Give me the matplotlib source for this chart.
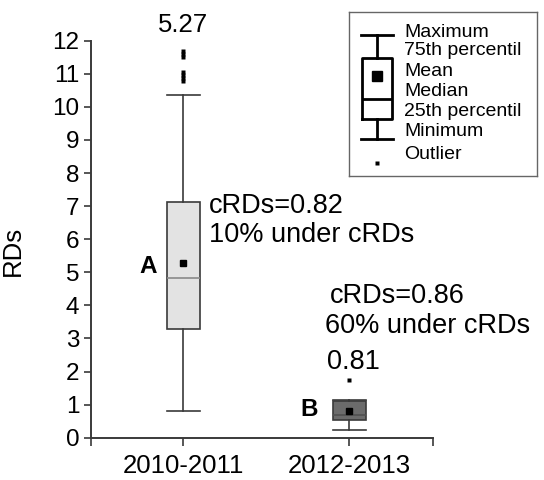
import matplotlib
matplotlib.use('Agg')
import matplotlib.pyplot as plt

plt.rcParams['font.family'] = ['Liberation Sans', 'DejaVu Sans']

# datos
periods = ['2010-2011', '2012-2013']
whislo = [0.80, 0.24]
q1 = [3.28, 0.53]
medians = [4.83, 0.70]
q3 = [7.13, 1.10]
whishi = [10.35, 1.14]
means = [5.27, 0.81]
outliers = [[11.70, 11.60, 11.50, 11.05, 10.96, 10.87, 10.78], [1.73]]
group_letters = ['A', 'B']
crds_text = [['cRDs=0.82', '10% under cRDs'], ['cRDs=0.86', '60% under cRDs']]
box_colors = ['#e3e3e3', '#6b6b6b']
median_colors = ['#8a8a8a', '#505050']

legend_labels = ['Maximum', '75th percentil', 'Mean', 'Median',
                 '25th percentil', 'Minimum', 'Outlier']

fig = plt.figure(figsize=(5.44, 4.8), dpi=100)
ax = fig.add_axes([0.1673, 0.0881, 0.6292, 0.8271])

stats = []
for i in range(len(periods)):
    stats.append({'whislo': whislo[i], 'q1': q1[i], 'med': medians[i],
                  'q3': q3[i], 'whishi': whishi[i], 'mean': means[i],
                  'fliers': outliers[i], 'label': periods[i]})

edge = '#3a3a3a'
bp = ax.bxp(stats, positions=[1, 2], widths=0.2, capwidths=0.2,
            showmeans=True, patch_artist=True,
            boxprops=dict(edgecolor=edge, linewidth=1.2),
            whiskerprops=dict(color=edge, linewidth=1.2),
            capprops=dict(color=edge, linewidth=1.2),
            meanprops=dict(marker='s', markerfacecolor='black',
                           markeredgecolor='black', markersize=5),
            flierprops=dict(marker='s', markerfacecolor='black',
                            markeredgecolor='none', markersize=3))
for patch, c in zip(bp['boxes'], box_colors):
    patch.set_facecolor(c)
for line, c in zip(bp['medians'], median_colors):
    line.set_color(c)
    line.set_linewidth(1.2)

ax.set_xlim(0.444, 2.506)
ax.set_ylim(0, 12)
ax.set_yticks(range(0, 13))
ax.set_xticks([1, 2])
ax.set_xticklabels(periods)
ax.set_xticks([0.444, 2.506], minor=True)
ax.tick_params(axis='y', labelsize=17.5, length=5, width=1.2, color=edge)
ax.tick_params(axis='x', which='both', labelsize=18.5, length=6, width=1.2,
               color=edge, pad=6)
for s in ['top', 'right']:
    ax.spines[s].set_visible(False)
for s in ['left', 'bottom']:
    ax.spines[s].set_color(edge)
    ax.spines[s].set_linewidth(1.4)

ax.set_ylabel('RDs', fontsize=18.5)
ax.yaxis.set_label_coords(-0.193, 0.47)

# etiquetas de la media
ax.text(1.0, 12.27, f'{means[0]:.2f}', fontsize=18.5, ha='center',
        va='baseline', clip_on=False)
ax.text(2.027, 2.08, f'{means[1]:.2f}', fontsize=19.5, ha='center',
        va='baseline')

# letras de grupo
ax.text(0.787, 4.97, group_letters[0], fontsize=17.5, fontweight='bold',
        ha='center', va='baseline')
ax.text(1.758, 0.66, group_letters[1], fontsize=17.5, fontweight='bold',
        ha='center', va='baseline')

# textos cRDs
ax.text(1.157, 5.93, '\n'.join(crds_text[0]), fontsize=19.5, ha='left',
        va='baseline', linespacing=1.13)
ax.text(1.884, 4.06, crds_text[1][0], fontsize=19.5, ha='left', va='baseline')
ax.text(1.853, 3.16, crds_text[1][1], fontsize=19.5, ha='left', va='baseline',
        clip_on=False)

# leyenda dibujada como un boxplot esquematico
lax = fig.add_axes([0.642, 0.633, 0.3445, 0.342])
for s in lax.spines.values():
    s.set_color('#666666')
    s.set_linewidth(1.0)

legend_stats = [{'whislo': 0.229, 'q1': 0.347, 'med': 0.470, 'q3': 0.722,
                 'whishi': 0.858, 'mean': 0.609, 'fliers': [0.079]}]
lax.bxp(legend_stats, positions=[0.148], widths=0.156, capwidths=0.172,
        showmeans=True,
        boxprops=dict(color='black', linewidth=2),
        whiskerprops=dict(color='black', linewidth=2),
        capprops=dict(color='black', linewidth=2),
        medianprops=dict(color='black', linewidth=2),
        meanprops=dict(marker='s', markerfacecolor='black',
                       markeredgecolor='black', markersize=7.5),
        flierprops=dict(marker='s', markerfacecolor='black',
                        markeredgecolor='none', markersize=3.5))
lax.set_xlim(0, 1)
lax.set_ylim(0, 1)
lax.set_xticks([])
lax.set_yticks([])

legend_y = [0.878, 0.767, 0.635, 0.513, 0.391, 0.274, 0.134]
for lbl, y in zip(legend_labels, legend_y):
    lax.text(0.292, y, lbl, fontsize=14, ha='left', va='center')

fig.savefig('out.png', dpi=100)
